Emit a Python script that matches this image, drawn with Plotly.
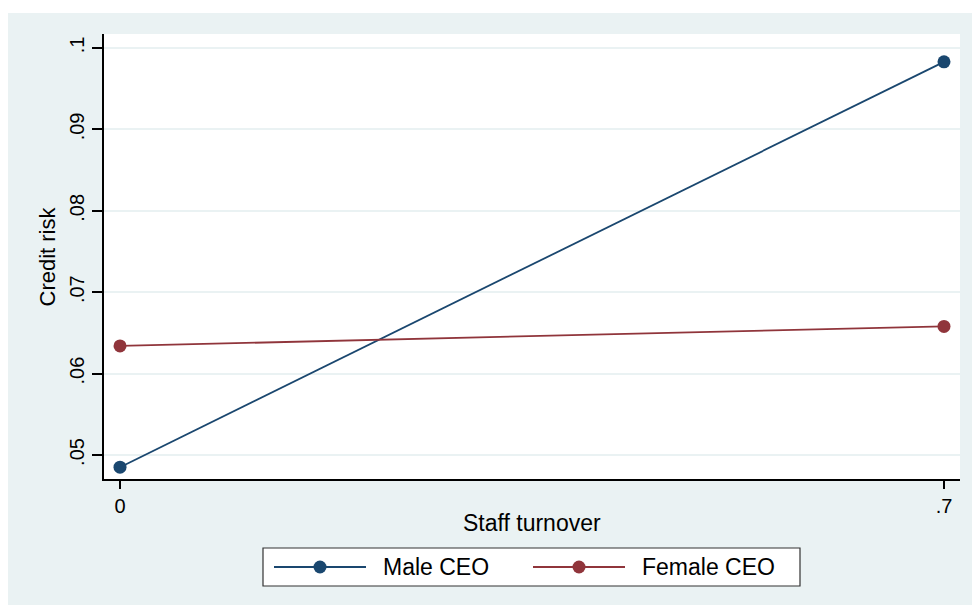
import plotly.graph_objects as go

# Predicted credit risk at low/high staff turnover, by CEO gender
turnover = [0, 0.7]
male_ceo = [0.0485, 0.0983]
female_ceo = [0.0634, 0.0658]

series_names = ["Male CEO", "Female CEO"]
series_colors = ["#1a476f", "#90353b"]

x_ticks = [0, 0.7]
x_tick_labels = ["0", ".7"]
y_ticks = [0.05, 0.06, 0.07, 0.08, 0.09, 0.1]
y_tick_labels = [".05", ".06", ".07", ".08", ".09", ".1"]

FONT = "Liberation Sans, Arial, sans-serif"
BG = "#eaf2f3"

W, H = 972, 605
ML, MR, MT, MB = 104, 12, 34, 126
PW, PH = W - ML - MR, H - MT - MB


def px(x):
    """page pixel x -> paper x"""
    return (x - ML) / PW


def py(y):
    """page pixel y -> paper y"""
    return (H - MB - y) / PH


fig = go.Figure()
for name, vals, col in zip(series_names, [male_ceo, female_ceo], series_colors):
    fig.add_trace(go.Scatter(
        x=turnover, y=vals, name=name, mode="lines+markers",
        line=dict(color=col, width=1.8),
        marker=dict(color=col, size=13),
        showlegend=False,
    ))

shapes = [
    # white page edge strips around the grey graph region
    dict(type="rect", xref="paper", yref="paper", x0=px(-5), x1=px(W + 5),
         y0=py(13), y1=py(-5), fillcolor="white", line_width=0, layer="below"),
    dict(type="rect", xref="paper", yref="paper", x0=px(-5), x1=px(8),
         y0=py(H + 5), y1=py(-5), fillcolor="white", line_width=0, layer="below"),
    # legend frame
    dict(type="rect", xref="paper", yref="paper", x0=px(263), x1=px(800),
         y0=py(586), y1=py(548), fillcolor="white",
         line=dict(color="#333333", width=1.2)),
]
annotations = [
    dict(text="Staff turnover", xref="paper", yref="paper", x=0.5, y=py(523),
         showarrow=False, xanchor="center", yanchor="middle",
         font=dict(family=FONT, size=23, color="black")),
    dict(text="Credit risk", xref="paper", yref="paper", x=px(47), y=0.5,
         showarrow=False, xanchor="center", yanchor="middle", textangle=-90,
         font=dict(family=FONT, size=22, color="black")),
]

# legend entries: line sample with centred marker, then label
legend_items = [(274, 366, 320, 381), (533, 625, 579, 640)]
for (lx0, lx1, mx, tx), name, col in zip(legend_items, series_names, series_colors):
    yc = py(567)
    shapes.append(dict(type="line", xref="paper", yref="paper",
                       x0=px(lx0), x1=px(lx1), y0=yc, y1=yc,
                       line=dict(color=col, width=1.8)))
    r = 6.5
    shapes.append(dict(type="circle", xref="paper", yref="paper",
                       x0=px(mx - r), x1=px(mx + r), y0=py(567 + r), y1=py(567 - r),
                       fillcolor=col, line=dict(color=col, width=0)))
    annotations.append(dict(text=name, xref="paper", yref="paper", x=px(tx), y=yc,
                            showarrow=False, xanchor="left", yanchor="middle",
                            font=dict(family=FONT, size=23, color="black")))

fig.update_layout(
    width=W, height=H, autosize=False,
    margin=dict(l=ML, r=MR, t=MT, b=MB, pad=0),
    paper_bgcolor=BG, plot_bgcolor="white",
    font=dict(family=FONT, color="black"),
    shapes=shapes, annotations=annotations,
    showlegend=False,
)
fig.update_layout(
    xaxis=dict(
        range=[-0.0136, 0.7136], tickmode="array", tickvals=x_ticks, ticktext=x_tick_labels,
        ticks="outside", ticklen=8, tickwidth=1.5, tickcolor="black",
        showline=True, linecolor="black", linewidth=1.5,
        showgrid=False, zeroline=False,
        tickfont=dict(family=FONT, size=20, color="black"),
        automargin=False,
    ),
    yaxis=dict(
        range=[0.04705, 0.10172], tickmode="array", tickvals=y_ticks, ticktext=y_tick_labels,
        tickangle=-90, ticks="outside", ticklen=10, tickwidth=1.5, tickcolor="black",
        showline=True, linecolor="black", linewidth=1.5,
        showgrid=True, gridcolor=BG, gridwidth=1.5, zeroline=False,
        tickfont=dict(family=FONT, size=20, color="black"),
        automargin=False,
    ),
)

fig.write_html("out.html")
